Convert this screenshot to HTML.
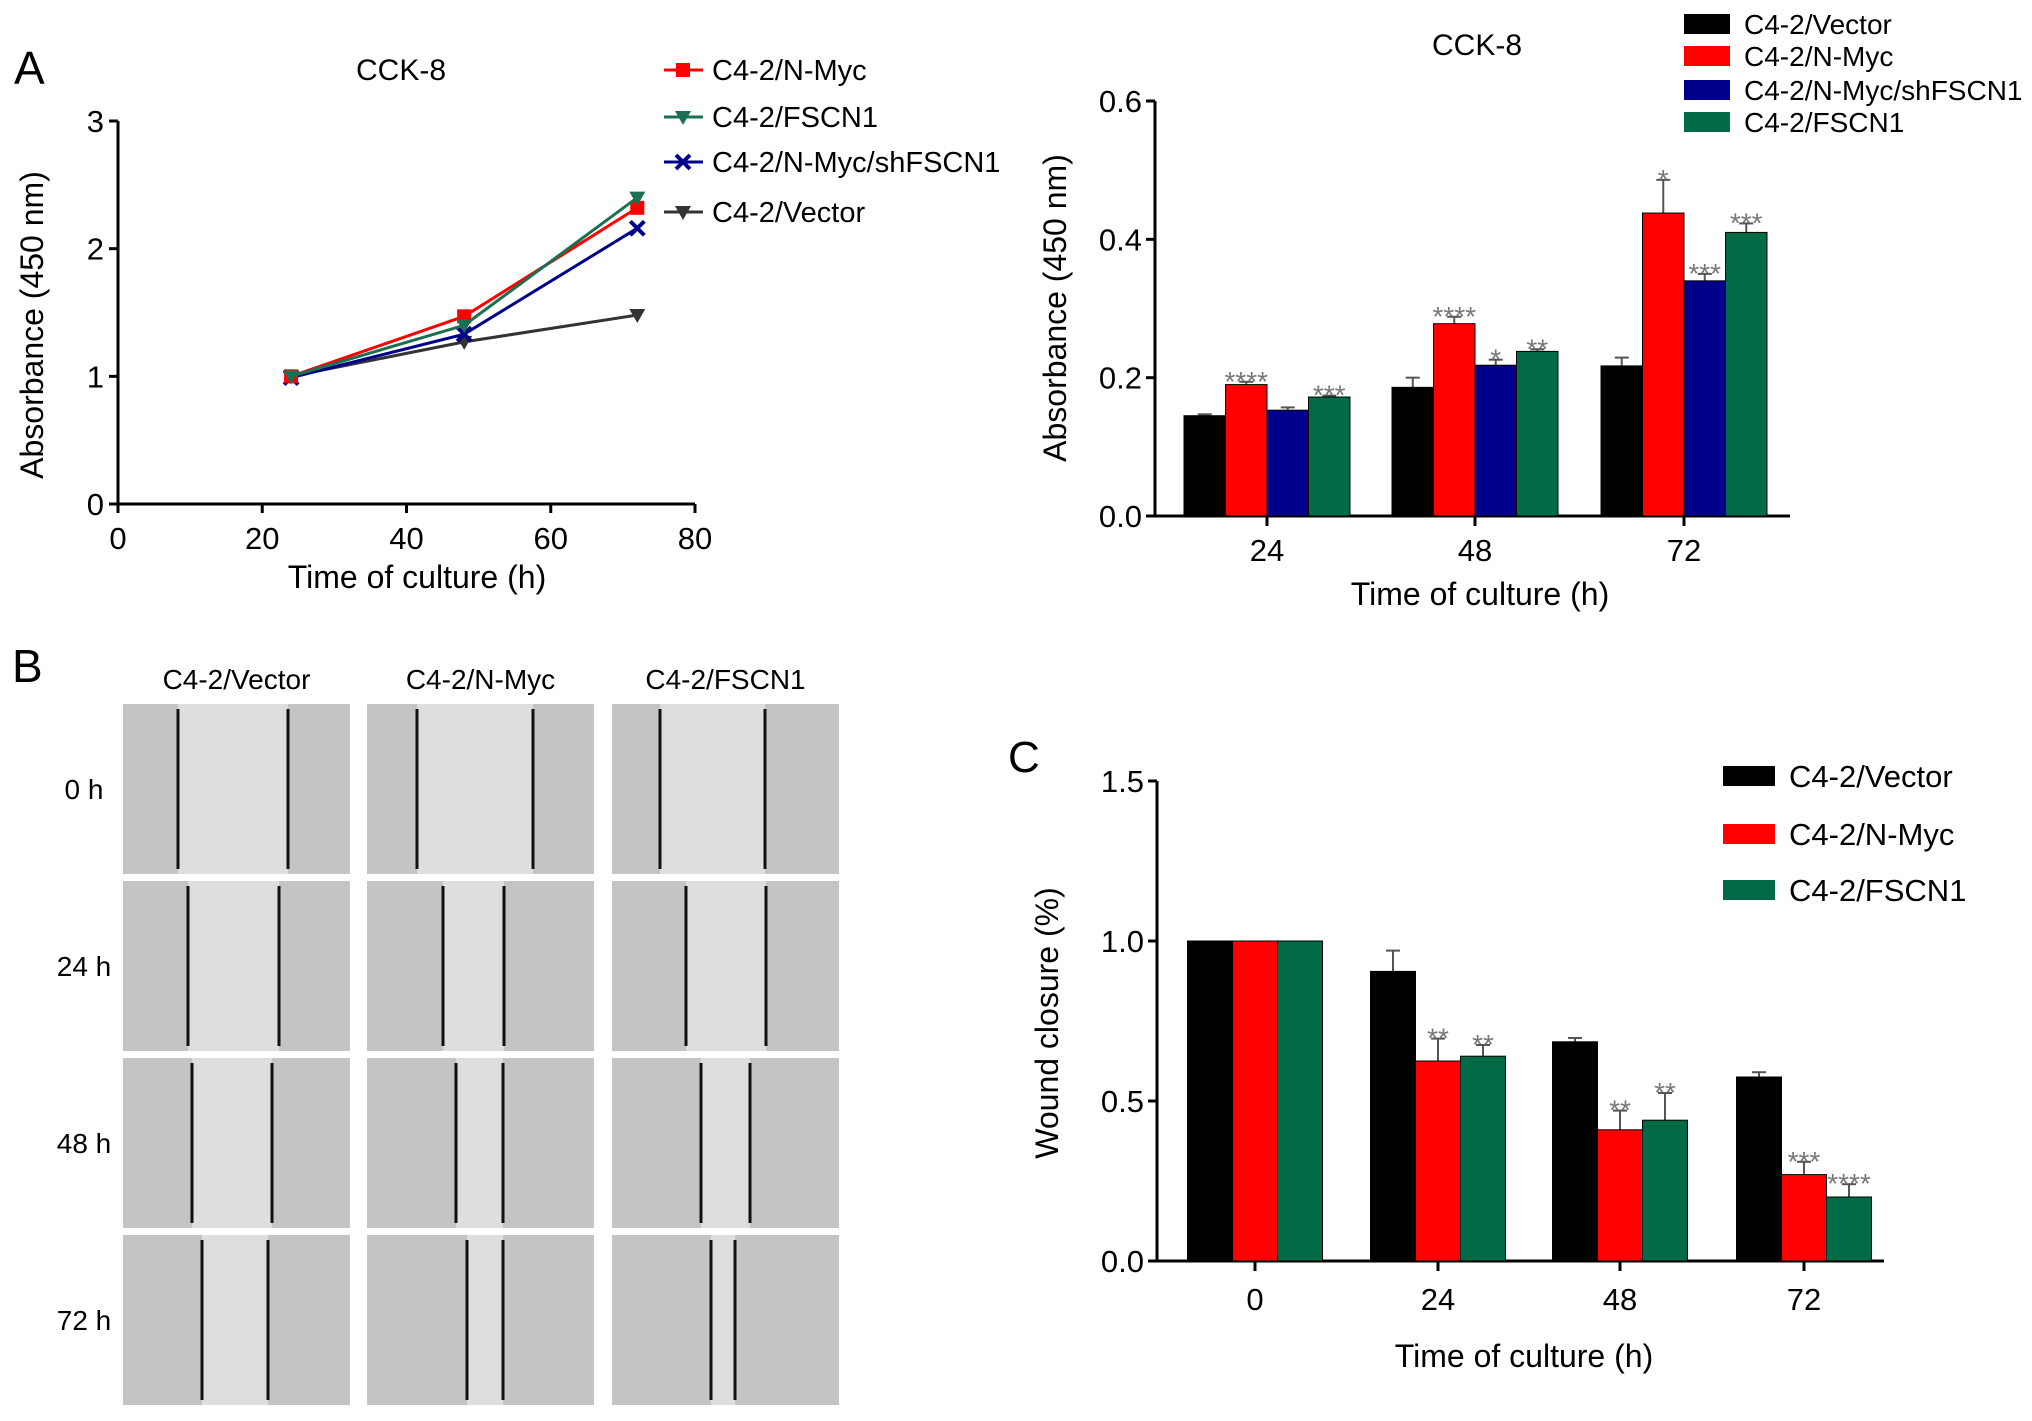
<!DOCTYPE html>
<html><head><meta charset="utf-8"><style>
html,body{margin:0;padding:0;background:#fff;overflow:hidden;}
svg{display:block;font-family:"Liberation Sans Narrow","Liberation Sans",sans-serif;}
</style></head><body>
<svg id="fig" width="2032" height="1421" viewBox="0 0 2032 1421" xmlns="http://www.w3.org/2000/svg">
<defs>
<filter id="tex" x="0" y="0" width="100%" height="100%"><feTurbulence type="fractalNoise" baseFrequency="0.35" numOctaves="2" seed="3"/><feColorMatrix type="matrix" values="0 0 0 0 0.55  0 0 0 0 0.55  0 0 0 0 0.55  0 0 0 1.3 -0.35"/></filter>
</defs>
<g id="root"></g>
</svg>
<script>
// ---- Panel A line chart data ----
const lineX = [24, 48, 72];
const lineNames = ["C4-2/N-Myc", "C4-2/FSCN1", "C4-2/N-Myc/shFSCN1", "C4-2/Vector"];
const lineNMyc = [1.0, 1.47, 2.32];
const lineFSCN1 = [1.0, 1.40, 2.40];
const lineSh = [0.99, 1.33, 2.16];
const lineVector = [1.0, 1.27, 1.48];
const lineXTicks = [0, 20, 40, 60, 80];
const lineYTicks = [0, 1, 2, 3];
// ---- Panel A bar chart data ----
const barCats = ["24", "48", "72"];
const barNames = ["C4-2/Vector", "C4-2/N-Myc", "C4-2/N-Myc/shFSCN1", "C4-2/FSCN1"];
const barVector = [0.145, 0.186, 0.217];
const barNMyc = [0.19, 0.278, 0.438];
const barSh = [0.153, 0.218, 0.34];
const barFSCN1 = [0.172, 0.238, 0.41];
const errVector = [0.002, 0.014, 0.012];
const errNMyc = [0.004, 0.01, 0.048];
const errSh = [0.004, 0.008, 0.01];
const errFSCN1 = [0.002, 0.003, 0.013];
const starsNMyc = ["****", "****", "*"];
const starsSh = ["", "*", "***"];
const starsFSCN1 = ["***", "**", "***"];
const barYTicks = ["0.0", "0.2", "0.4", "0.6"];
// ---- Panel C data ----
const woundCats = ["0", "24", "48", "72"];
const woundNames = ["C4-2/Vector", "C4-2/N-Myc", "C4-2/FSCN1"];
const woundVector = [1.0, 0.905, 0.685, 0.575];
const woundNMyc = [1.0, 0.625, 0.41, 0.27];
const woundFSCN1 = [1.0, 0.64, 0.44, 0.2];
const wErrVector = [0, 0.065, 0.012, 0.015];
const wErrNMyc = [0, 0.07, 0.06, 0.04];
const wErrFSCN1 = [0, 0.035, 0.085, 0.04];
const wStarsNMyc = ["", "**", "**", "***"];
const wStarsFSCN1 = ["", "**", "**", "****"];
const woundYTicks = ["0.0", "0.5", "1.0", "1.5"];

const NS = "http://www.w3.org/2000/svg";
const root = document.getElementById("root");
function mk(tag, attrs, parent, text) {
  const e = document.createElementNS(NS, tag);
  for (const k in attrs) e.setAttribute(k, attrs[k]);
  if (text !== undefined) e.textContent = text;
  (parent || root).appendChild(e);
  return e;
}
const C = {black:"#000", red:"#ff0000", blue:"#00008b", green:"#006b45", gray:"#333"};

// ===== Panel A line chart =====
(function(){
  const g = mk("g", {});
  
  
  const x0=118, x1=695, yB=504, yT=121;
  const sx = v => x0 + (v-0)/(80-0)*(x1-x0);
  const sy = v => yB - v/3*(yB-yT);
  let t = mk("text",{x:14,y:84,"font-size":46},g,"A");
  
  
  t = mk("text",{x:401,y:80,"font-size":30,"text-anchor":"middle"},g,"CCK-8");
  
  
  mk("line",{x1:x0,y1:yT,x2:x0,y2:yB+8,stroke:"#000","stroke-width":3},g);
  mk("line",{x1:x0,y1:yB,x2:x1,y2:yB,stroke:"#000","stroke-width":3},g);
  lineYTicks.forEach(v=>{
    mk("line",{x1:x0-9,y1:sy(v),x2:x0,y2:sy(v),stroke:"#000","stroke-width":3},g);
    const tt = mk("text",{x:x0-14,y:sy(v)+11,"font-size":31,"text-anchor":"end"},g,String(v));
    
    
  });
  lineXTicks.forEach(v=>{
    mk("line",{x1:sx(v),y1:yB,x2:sx(v),y2:yB+9,stroke:"#000","stroke-width":3},g);
    const tt = mk("text",{x:sx(v),y:549,"font-size":31,"text-anchor":"middle"},g,String(v));
    
    
  });
  t = mk("text",{x:417,y:588,"font-size":32,"text-anchor":"middle"},g,"Time of culture (h)");
  
  
  t = mk("text",{x:43,y:325,"font-size":32,"text-anchor":"middle",transform:"rotate(-90 43 325)"},g,"Absorbance (450 nm)");
  
  
  const series = [[lineVector,C.gray,"tri"],[lineSh,C.blue,"x"],[lineNMyc,C.red,"sq"],[lineFSCN1,"#1a7050","tri"]];
  function marker(px,py,col,type,par){
    if(type==="sq") mk("rect",{x:px-7,y:py-7,width:14,height:14,fill:col},par);
    else if(type==="tri") mk("polygon",{points:`${px-8},${py-6} ${px+8},${py-6} ${px},${py+8}`,fill:col},par);
    else { mk("path",{d:`M${px-7},${py-7}L${px+7},${py+7}M${px+7},${py-7}L${px-7},${py+7}`,stroke:col,"stroke-width":4},par); }
  }
  series.forEach(([vals,col,type])=>{
    const pts = vals.map((v,i)=>sx(lineX[i])+","+sy(v)).join(" ");
    const pl = mk("polyline",{points:pts,fill:"none",stroke:col,"stroke-width":3},g);
    
    
    vals.forEach((v,i)=>marker(sx(lineX[i]),sy(v),col,type,g));
  });
  const legCols = [C.red,"#1a7050",C.blue,C.gray];
  const legTypes = ["sq","tri","x","tri"];
  const legY = [70,117,162,212];
  lineNames.forEach((n,i)=>{
    const lg = mk("g",{},g);
    
    
    mk("line",{x1:664,y1:legY[i],x2:703,y2:legY[i],stroke:legCols[i],"stroke-width":3},lg);
    marker(683,legY[i],legCols[i],legTypes[i],lg);
    mk("text",{x:712,y:legY[i]+10,"font-size":29},lg,n);
  });
})();

// generic grouped bar chart
function barChart(cfg){
  const g = mk("g",{});
  
  
  const sy = v => cfg.yB - v/cfg.yMax*(cfg.yB-cfg.yT);
  mk("line",{x1:cfg.x0,y1:cfg.yT,x2:cfg.x0,y2:cfg.yB,stroke:"#000","stroke-width":3},g);
  mk("line",{x1:cfg.x0-8,y1:cfg.yB,x2:cfg.x1,y2:cfg.yB,stroke:"#000","stroke-width":3},g);
  cfg.yTicks.forEach(s=>{
    const v=parseFloat(s);
    mk("line",{x1:cfg.x0-9,y1:sy(v),x2:cfg.x0,y2:sy(v),stroke:"#000","stroke-width":3},g);
    const tt=mk("text",{x:cfg.x0-13,y:sy(v)+11,"font-size":31,"text-anchor":"end"},g,s);
    
    
  });
  const n = cfg.series.length;
  cfg.cats.forEach((c,ci)=>{
    const cx = cfg.centers[ci];
    mk("line",{x1:cx,y1:cfg.yB,x2:cx,y2:cfg.yB+10,stroke:"#000","stroke-width":3},g);
    const tt=mk("text",{x:cx,y:cfg.xLabY,"font-size":31,"text-anchor":"middle"},g,c);
    
    
    cfg.series.forEach((s,si)=>{
      const bx = cx - n*cfg.bw/2 + si*cfg.bw;
      const v = s.vals[ci], e = s.err[ci];
      const top = sy(v);
      if(e>0){
        mk("line",{x1:bx+cfg.bw/2,y1:top,x2:bx+cfg.bw/2,y2:sy(v+e),stroke:"#555","stroke-width":2},g);
        mk("line",{x1:bx+cfg.bw/2-7,y1:sy(v+e),x2:bx+cfg.bw/2+7,y2:sy(v+e),stroke:"#555","stroke-width":2},g);
      }
      const r = mk("rect",{x:bx,y:top,width:cfg.bw,height:cfg.yB-top,fill:s.col,stroke:"#000","stroke-width":1},g);
      
      
      if(s.stars && s.stars[ci]){
        const st=mk("text",{x:bx+cfg.bw/2,y:sy(v+e)+9,"font-size":28,fill:"#777","text-anchor":"middle"},g,s.stars[ci]);
        
        
      }
    });
  });
  let t=mk("text",{x:cfg.xtX,y:cfg.xtY,"font-size":32,"text-anchor":"middle"},g,"Time of culture (h)");
  
  
  t=mk("text",{x:cfg.ytX,y:cfg.ytY,"font-size":32,"text-anchor":"middle",transform:`rotate(-90 ${cfg.ytX} ${cfg.ytY})`},g,cfg.yTitle);
  
  
  cfg.series.forEach((s,i)=>{
    const lg=mk("g",{},g);
    
    
    mk("rect",{x:cfg.legX,y:cfg.legY[i]-cfg.legH/2,width:cfg.legW,height:cfg.legH,fill:s.col},lg);
    mk("text",{x:cfg.legX+cfg.legW+14,y:cfg.legY[i]+cfg.legFs*0.36,"font-size":cfg.legFs},lg,s.name);
  });
  return g;
}

const gB = barChart({name:"bar-chart-cck8",x0:1155,x1:1790,yT:101,yB:516,yMax:0.6,yTicks:barYTicks,
  cats:barCats,centers:[1267,1475,1684],bw:41.5,xLabY:561,
  series:[
    {name:barNames[0],vals:barVector,err:errVector,col:C.black},
    {name:barNames[1],vals:barNMyc,err:errNMyc,col:C.red,stars:starsNMyc},
    {name:barNames[2],vals:barSh,err:errSh,col:C.blue,stars:starsSh},
    {name:barNames[3],vals:barFSCN1,err:errFSCN1,col:C.green,stars:starsFSCN1}],
  xtX:1480,xtY:605,ytX:1066,ytY:308,yTitle:"Absorbance (450 nm)",
  legX:1684,legY:[24,56,90,122],legW:46,legH:20,legFs:28});
(function(){const t=mk("text",{x:1477,y:55,"font-size":30,"text-anchor":"middle"},gB,"CCK-8");

})();

const gC = barChart({name:"bar-chart-wound-closure",x0:1157,x1:1884,yT:781,yB:1261,yMax:1.5,yTicks:woundYTicks,
  cats:woundCats,centers:[1255,1438,1620,1804],bw:45,xLabY:1310,
  series:[
    {name:woundNames[0],vals:woundVector,err:wErrVector,col:C.black},
    {name:woundNames[1],vals:woundNMyc,err:wErrNMyc,col:C.red,stars:wStarsNMyc},
    {name:woundNames[2],vals:woundFSCN1,err:wErrFSCN1,col:C.green,stars:wStarsFSCN1}],
  xtX:1524,xtY:1367,ytX:1058,ytY:1023,yTitle:"Wound closure (%)",
  legX:1723,legY:[776,834,890],legW:52,legH:20,legFs:31});
(function(){const t=mk("text",{x:1008,y:772,"font-size":44},gC,"C");

})();

// ===== Panel B micrographs =====
(function(){
  const g = mk("g",{});
  
  
  let t=mk("text",{x:12,y:682,"font-size":46},g,"B");
  
  
  const colNames=["C4-2/Vector","C4-2/N-Myc","C4-2/FSCN1"];
  const colX=[123,367,612], colW=227;
  const rowNames=["0 h","24 h","48 h","72 h"];
  const rowY=[704,881,1058,1235], rowH=170;
  const lines=[[[178,288],[417,533],[660,765]],[[188,279],[443,504],[686,766]],[[192,272],[456,503],[701,750]],[[202,268],[467,503],[711,735]]];
  colNames.forEach((n,i)=>{
    const tt=mk("text",{x:colX[i]+colW/2,y:689,"font-size":28,"text-anchor":"middle"},g,n);
    
    
  });
  rowNames.forEach((n,r)=>{
    const tt=mk("text",{x:84,y:rowY[r]+rowH/2+10,"font-size":28,"text-anchor":"middle"},g,n);
    
    
    colNames.forEach((c,ci)=>{
      const cell=mk("g",{},g);
      
      
      const [l1,l2]=lines[r][ci];
      mk("rect",{x:colX[ci],y:rowY[r],width:colW,height:rowH,fill:"#c4c4c4"},cell);
      mk("rect",{x:colX[ci],y:rowY[r],width:colW,height:rowH,fill:"#999",filter:"url(#tex)"},cell);
      mk("rect",{x:l1,y:rowY[r],width:l2-l1,height:rowH,fill:"#dedede"},cell);
      mk("line",{x1:l1,y1:rowY[r]+5,x2:l1,y2:rowY[r]+rowH-5,stroke:"#111","stroke-width":3},cell);
      mk("line",{x1:l2,y1:rowY[r]+5,x2:l2,y2:rowY[r]+rowH-5,stroke:"#111","stroke-width":3},cell);
    });
  });
})();
</script>
</body></html>
